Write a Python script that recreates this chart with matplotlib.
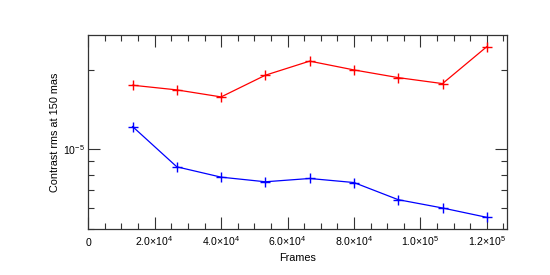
import numpy as np
import matplotlib
matplotlib.use('Agg')
import matplotlib.pyplot as plt
from matplotlib.ticker import NullFormatter, LogLocator

# data
frames = [13333, 26667, 40000, 53333, 66667, 80000, 93333, 106667, 120000]
contrast_red = [1.75e-5, 1.68e-5, 1.58e-5, 1.91e-5, 2.16e-5, 2.00e-5, 1.87e-5, 1.775e-5, 2.45e-5]
contrast_blue = [1.22e-5, 8.58e-6, 7.84e-6, 7.53e-6, 7.75e-6, 7.48e-6, 6.44e-6, 5.99e-6, 5.52e-6]

xtick_vals = [0, 20000, 40000, 60000, 80000, 100000, 120000]
xtick_labels = ['0', '2.0×10$^{4}$', '4.0×10$^{4}$', '6.0×10$^{4}$',
                '8.0×10$^{4}$', '1.0×10$^{5}$', '1.2×10$^{5}$']

plt.rcParams.update({
    'font.family': 'Liberation Sans',
    'mathtext.fontset': 'custom',
    'mathtext.rm': 'Liberation Sans',
    'mathtext.it': 'Liberation Sans:italic',
    'mathtext.bf': 'Liberation Sans:bold',
    'font.size': 7.6,
})

fig = plt.figure(figsize=(5.5, 2.75), dpi=100)
ax = fig.add_axes([0.1605, 0.166, 0.762, 0.7065])

ax.plot(frames, contrast_red, color='#ff0000', linewidth=0.9,
        marker='+', markersize=6.5, markeredgewidth=1.0)
ax.plot(frames, contrast_blue, color='#0000ff', linewidth=0.9,
        marker='+', markersize=6.5, markeredgewidth=1.0)

ax.set_yscale('log')
ax.set_xlim(0, 126200)
ax.set_ylim(4.97e-6, 2.712e-5)

ax.set_xticks(xtick_vals)
ax.set_xticklabels(xtick_labels)
ax.set_xticks(np.arange(0, 126000, 5000), minor=True)
ax.yaxis.set_minor_locator(LogLocator(base=10, subs=np.arange(2, 10)))
ax.yaxis.set_minor_formatter(NullFormatter())

ax.tick_params(which='both', direction='in', top=True, right=True,
               color='#333333', labelsize=7.6)
ax.tick_params(which='major', length=8.4, width=0.8)
ax.tick_params(which='minor', length=4.3, width=0.8)
ax.tick_params(axis='x', which='major', pad=12)
ax.tick_params(axis='y', which='major', pad=2.4)
plt.setp(ax.get_xticklabels(), va='baseline')

for s in ax.spines.values():
    s.set_color('#333333')
    s.set_linewidth(0.9)

ax.set_xlabel('Frames', fontsize=7.8, labelpad=3.5)
ax.set_ylabel('Contrast rms at 150 mas', fontsize=7.8, labelpad=2)

fig.savefig('out.png', dpi=100)
